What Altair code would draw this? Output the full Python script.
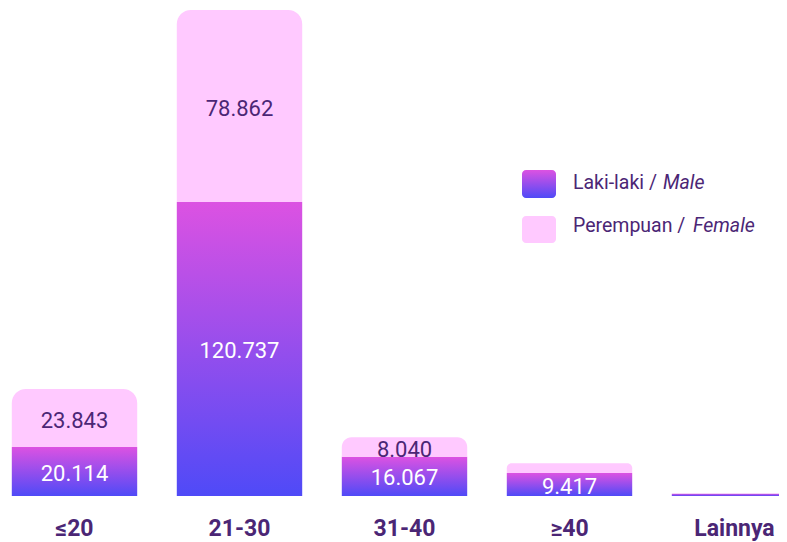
import altair as alt
import pandas as pd

groups = ["≤20", "21-30", "31-40", "≥40", "Lainnya"]
male = [20114, 120737, 16067, 9417, 900]
female = [23843, 78862, 8040, 4000, 0]
male_labels = ["20.114", "120.737", "16.067", "9.417", ""]
female_labels = ["23.843", "78.862", "8.040", "", ""]

PURPLE = "#4b2675"
PINK = "#ffc9ff"
grad = alt.Gradient(
    gradient="linear",
    stops=[alt.GradientStop(color="#dc52e2", offset=0),
           alt.GradientStop(color="#4f4af7", offset=1)],
    x1=0, x2=0, y1=0, y2=1,
)

df = pd.DataFrame({
    "group": groups,
    "male": male,
    "female": female,
    "ml": male_labels,
    "fl": female_labels,
})
df["total"] = df["male"] + df["female"]
df["male_mid"] = df["male"] / 2
df["female_mid"] = df["male"] + df["female"] / 2

xscale = alt.Scale(domain=groups, range=[-16, 809], paddingInner=0.24, paddingOuter=0.12)
yscale = alt.Scale(domain=[0, 200400])

x_axis = alt.Axis(title=None, domain=False, ticks=False, labelAngle=0,
                  labelFont="Roboto", labelFontSize=23, labelFontWeight="bold",
                  labelColor=PURPLE, labelPadding=21)

base = alt.Chart(df)
X = alt.X("group:N", sort=groups, scale=xscale, axis=x_axis)

male_bar = base.mark_bar(color=grad).encode(
    x=X,
    y=alt.Y("male:Q", scale=yscale, axis=None),
)
female_bar = base.transform_filter("datum.female > 0").mark_bar(
    color=PINK, cornerRadiusTopLeft=14, cornerRadiusTopRight=14
).encode(
    x=alt.X("group:N", sort=groups, scale=xscale),
    y=alt.Y("male:Q", scale=yscale),
    y2="total:Q",
)
male_text = base.mark_text(font="Roboto", fontSize=22, color="white", baseline="middle", dy=2).encode(
    x=alt.X("group:N", sort=groups, scale=xscale),
    y=alt.Y("male_mid:Q", scale=yscale),
    text="ml:N",
)
female_text = base.mark_text(font="Roboto", fontSize=22, color=PURPLE, baseline="middle", dy=3).encode(
    x=alt.X("group:N", sort=groups, scale=xscale),
    y=alt.Y("female_mid:Q", scale=yscale),
    text="fl:N",
)

leg = pd.DataFrame({"a": [0]})
leg_base = alt.Chart(leg)
leg_male = leg_base.mark_rect(color=grad, cornerRadius=4).encode(
    x=alt.value(514), x2=alt.value(548), y=alt.value(162), y2=alt.value(190))
leg_female = leg_base.mark_rect(color=PINK, cornerRadius=4).encode(
    x=alt.value(514), x2=alt.value(548), y=alt.value(208), y2=alt.value(235))
txt_kw = dict(font="Roboto", fontSize=19.5, color=PURPLE, align="left", baseline="middle")
leg_t1 = leg_base.mark_text(text="Laki-laki /", **txt_kw).encode(x=alt.value(565), y=alt.value(175))
leg_t1i = leg_base.mark_text(text="Male", fontStyle="italic", **txt_kw).encode(x=alt.value(655), y=alt.value(175))
leg_t2 = leg_base.mark_text(text="Perempuan /", **txt_kw).encode(x=alt.value(565), y=alt.value(218))
leg_t2i = leg_base.mark_text(text="Female", fontStyle="italic", **txt_kw).encode(x=alt.value(685), y=alt.value(218))

chart = alt.layer(
    male_bar, female_bar, male_text, female_text,
    leg_male, leg_female, leg_t1, leg_t1i, leg_t2, leg_t2i,
).properties(
    width=771, height=488,
    autosize=alt.AutoSizeParams(type="none"),
    padding={"left": 0, "top": 0, "right": 0, "bottom": 46},
).configure(background="white").configure_view(stroke=None)

chart.save("out.html", embed_options={"renderer": "svg", "actions": False})
